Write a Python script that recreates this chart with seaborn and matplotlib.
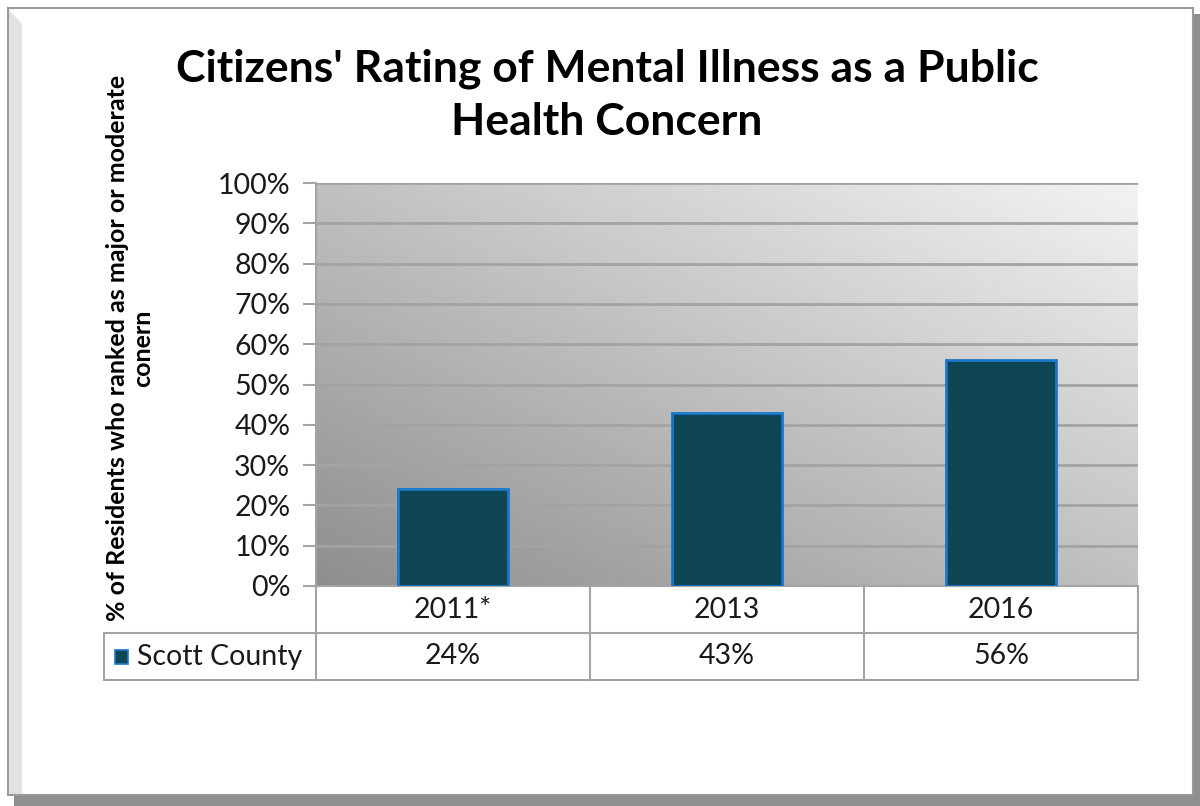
import numpy as np
import pandas as pd
import matplotlib
matplotlib.use("Agg")
import matplotlib.pyplot as plt
import matplotlib.transforms as mtransforms
from matplotlib.patches import Rectangle, Polygon
from matplotlib.lines import Line2D
from matplotlib.ticker import PercentFormatter
import seaborn as sns

# ---- data ----
years = ["2011*", "2013", "2016"]
scott_county = [0.24, 0.43, 0.56]
series_name = "Scott County"
title = "Citizens' Rating of Mental Illness as a Public\nHealth Concern"
ylabel = "% of Residents who ranked as major or moderate\nconern"

BAR = "#0E4656"
BAR_EDGE = "#1A78C8"
GRID = "#A3A3A3"
TEXT = "#1A1A1A"

sns.set_theme(style="white")
plt.rcParams["font.family"] = ["Lato", "DejaVu Sans"]

W, H = 1200, 806
fig = plt.figure(figsize=(W / 100, H / 100), dpi=100)
fig.patch.set_facecolor("white")

def px(x0, y0, x1, y1):
    return [x0 / W, 1 - y1 / H, (x1 - x0) / W, (y1 - y0) / H]

# ---- outer frame with shadow (drawn behind the axes) ----
frame_kw = dict(transform=fig.transFigure, zorder=-5)
fig.patches.append(Rectangle((1193 / W, 0), 7 / W, 1 - 14 / H,
                             facecolor="#8F8F8F", edgecolor="none", **frame_kw))
fig.patches.append(Rectangle((14 / W, 0), 1 - 14 / W, 11 / H,
                             facecolor="#8F8F8F", edgecolor="none", **frame_kw))
fig.patches.append(Rectangle((8 / W, 11 / H), 1185 / W, 1 - 19 / H,
                             facecolor="white", edgecolor="#9A9A9A", linewidth=1.5, **frame_kw))
fig.patches.append(Polygon([(9 / W, 1 - 10 / H), (22 / W, 1 - 24 / H), (22 / W, 12 / H), (9 / W, 12 / H)],
                           closed=True, facecolor="#E2E2E2", edgecolor="none", **frame_kw))

ax = fig.add_axes(px(316, 183, 1138, 586))
ax.set_zorder(2)

# gradient background, dark bottom-left to light top-right
gx, gy = np.meshgrid(np.linspace(0, 1, 300), np.linspace(0, 1, 200))
grad = (gx + gy) / 2
cmap = matplotlib.colors.LinearSegmentedColormap.from_list("g", ["#8E8E8E", "#F3F3F3"])
ax.imshow(grad, cmap=cmap, origin="lower", extent=[0, 1, 0, 1], transform=ax.transAxes,
          aspect="auto", zorder=0, vmin=0, vmax=1)

df = pd.DataFrame({"year": years, "value": scott_county})
sns.barplot(data=df, x="year", y="value", color=BAR, width=0.4, saturation=1,
            edgecolor=BAR_EDGE, linewidth=2, ax=ax, zorder=3)

ax.set_xlim(-0.5, len(years) - 0.5)
ax.set_ylim(0, 1)
ax.set_yticks(np.arange(0, 1.01, 0.1))
ax.yaxis.set_major_formatter(PercentFormatter(1.0, decimals=0))
ax.yaxis.grid(True, color=GRID, linewidth=2, zorder=1)
ax.set_axisbelow(True)
ax.tick_params(axis="y", length=9.5, width=1.5, color=GRID, labelsize=20.5, labelcolor=TEXT, pad=9, left=True)
ax.set_xticks([])
ax.set_xlabel("")
ax.set_ylabel("")
for s in ["top", "right"]:
    ax.spines[s].set_visible(False)
for s in ["left", "bottom"]:
    ax.spines[s].set_color(GRID)
    ax.spines[s].set_linewidth(1.5)

# ---- data table under the plot ----
row_h = 47 / 403
left_x = (104 - 316) / 822
trans = mtransforms.blended_transform_factory(ax.transData, ax.transAxes)
n = len(years)
line_kw = dict(color=GRID, linewidth=1.5, clip_on=False, zorder=5)
for b in np.arange(-0.5, n, 1.0):
    ax.add_line(Line2D([b, b], [0, -2 * row_h], transform=trans, **line_kw))
ax.add_line(Line2D([left_x, left_x], [-row_h, -2 * row_h], transform=ax.transAxes, **line_kw))
ax.add_line(Line2D([left_x, 1], [-row_h, -row_h], transform=ax.transAxes, **line_kw))
ax.add_line(Line2D([left_x, 1], [-2 * row_h, -2 * row_h], transform=ax.transAxes, **line_kw))

for i, (yr, v) in enumerate(zip(years, scott_county)):
    ax.text(i, -0.5 * row_h, yr, transform=trans, ha="center", va="center",
            fontsize=20.5, color=TEXT)
    ax.text(i, -1.5 * row_h, f"{v:.0%}", transform=trans, ha="center", va="center",
            fontsize=20.5, color=TEXT)

ax.add_patch(Rectangle(((115 - 316) / 822, -1.5 * row_h - 7 / 403), 13 / 822, 14 / 403,
                       transform=ax.transAxes, facecolor=BAR, edgecolor=BAR_EDGE,
                       linewidth=1.2, clip_on=False, zorder=6))
ax.text((137 - 316) / 822, -1.5 * row_h, series_name, transform=ax.transAxes,
        ha="left", va="center", fontsize=20.5, color=TEXT)

# ---- titles ----
fig.text(607 / W, 1 - 95 / H, title, ha="center", va="center", fontsize=32,
         fontweight="bold", color="black", linespacing=1.38)
fig.text(130 / W, 1 - 348 / H, ylabel, ha="center", va="center", rotation=90,
         fontsize=18, fontweight="bold", color="black", linespacing=1.12)

fig.savefig("out.png", dpi=100, facecolor="white")
